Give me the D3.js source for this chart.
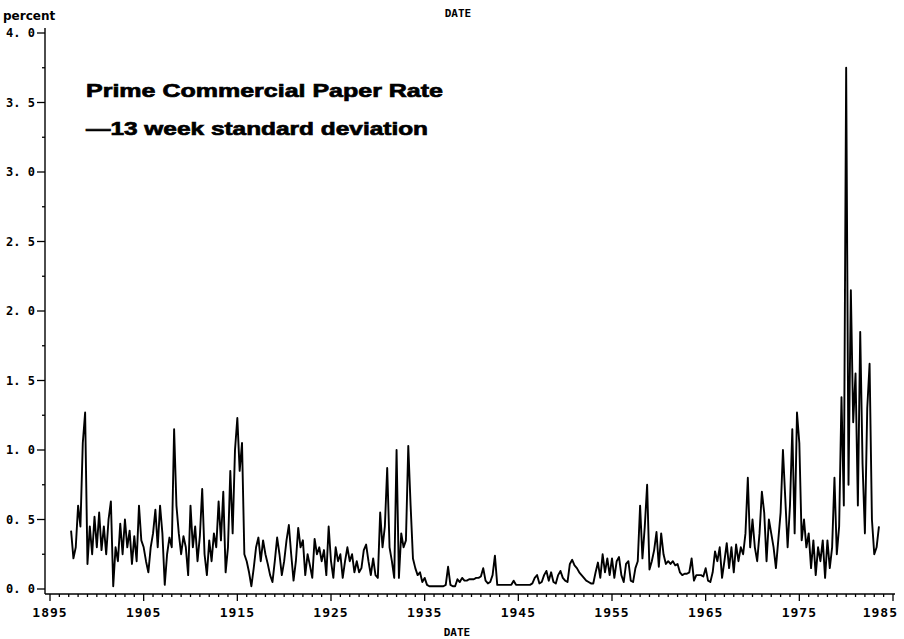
<!DOCTYPE html>
<html>
<head>
<meta charset="utf-8">
<script src="https://cdn.jsdelivr.net/npm/d3@7"></script>
<style>
  body { margin: 0; background: #fff; }
  svg { display: block; }
</style>
</head>
<body>
<div id="chart"></div>
<script>
// quarterly readings of the 13 week std. deviation, starting 1897.25
const startYear = 1897.25;
const step = 0.25;

const rate1890s = [0.42, 0.22, 0.30, 0.60, 0.45, 1.05, 1.27, 0.18, 0.45, 0.25, 0.52];
const rate1900s = [0.30, 0.55, 0.28, 0.45, 0.25, 0.50, 0.63, 0.02, 0.30, 0.20,
                   0.47, 0.25, 0.50, 0.30, 0.42, 0.18, 0.38, 0.20, 0.60, 0.35,
                   0.30, 0.20, 0.12, 0.30, 0.40, 0.57, 0.30, 0.60, 0.40, 0.03,
                   0.25, 0.37, 0.30, 1.15, 0.60, 0.40, 0.25, 0.38, 0.30, 0.10];
const rate1910s = [0.60, 0.30, 0.45, 0.20, 0.38, 0.72, 0.25, 0.10, 0.35, 0.20,
                   0.40, 0.30, 0.63, 0.35, 0.70, 0.12, 0.30, 0.85, 0.40, 1.00,
                   1.23, 0.85, 1.05, 0.25, 0.20, 0.12, 0.02, 0.15, 0.30, 0.37,
                   0.20, 0.35, 0.25, 0.18, 0.10, 0.05, 0.20, 0.37, 0.25, 0.10];
const rate1920s = [0.20, 0.35, 0.46, 0.25, 0.06, 0.20, 0.44, 0.30, 0.35, 0.10,
                   0.25, 0.17, 0.08, 0.36, 0.25, 0.30, 0.20, 0.28, 0.10, 0.45,
                   0.20, 0.08, 0.30, 0.20, 0.25, 0.08, 0.20, 0.30, 0.20, 0.25,
                   0.12, 0.20, 0.12, 0.15, 0.28, 0.32, 0.20, 0.10, 0.22, 0.10];
const rate1930s = [0.08, 0.55, 0.30, 0.45, 0.87, 0.30, 0.20, 0.08, 1.00, 0.08,
                   0.40, 0.30, 0.35, 1.03, 0.60, 0.22, 0.15, 0.10, 0.12, 0.05,
                   0.08, 0.03, 0.02, 0.02, 0.02, 0.02, 0.02, 0.02, 0.02, 0.03,
                   0.16, 0.03, 0.02, 0.02, 0.07, 0.05, 0.08, 0.06, 0.06, 0.07];
const rate1940s = [0.07, 0.07, 0.08, 0.08, 0.09, 0.15, 0.06, 0.04, 0.05, 0.10,
                   0.24, 0.03, 0.03, 0.03, 0.03, 0.03, 0.03, 0.03, 0.06, 0.03,
                   0.03, 0.03, 0.03, 0.03, 0.03, 0.03, 0.04, 0.08, 0.10, 0.04,
                   0.05, 0.10, 0.13, 0.06, 0.12, 0.05, 0.04, 0.10, 0.13, 0.08];
const rate1950s = [0.06, 0.05, 0.18, 0.21, 0.17, 0.15, 0.12, 0.10, 0.08, 0.06,
                   0.05, 0.04, 0.04, 0.12, 0.19, 0.08, 0.25, 0.12, 0.22, 0.10,
                   0.22, 0.08, 0.20, 0.23, 0.10, 0.05, 0.18, 0.20, 0.06, 0.05,
                   0.15, 0.20, 0.60, 0.22, 0.45, 0.75, 0.14, 0.20, 0.28, 0.41];
const rate1960s = [0.16, 0.40, 0.25, 0.18, 0.20, 0.18, 0.20, 0.17, 0.18, 0.12,
                   0.10, 0.11, 0.11, 0.12, 0.22, 0.06, 0.10, 0.10, 0.10, 0.09,
                   0.15, 0.06, 0.05, 0.12, 0.27, 0.20, 0.30, 0.08, 0.20, 0.33,
                   0.15, 0.30, 0.12, 0.32, 0.20, 0.30, 0.25, 0.40, 0.80, 0.30];
const rate1970s = [0.50, 0.30, 0.20, 0.40, 0.70, 0.55, 0.20, 0.50, 0.40, 0.30,
                   0.15, 0.35, 0.55, 1.00, 0.65, 0.30, 0.60, 1.15, 0.40, 1.27,
                   1.05, 0.35, 0.50, 0.30, 0.40, 0.15, 0.35, 0.10, 0.30, 0.20,
                   0.35, 0.08, 0.35, 0.15, 0.30, 0.80, 0.25, 0.45, 1.38, 0.60];
const rate1980s = [3.75, 0.75, 2.15, 1.20, 1.55, 0.60, 1.85, 0.90, 0.40, 1.30,
                   1.62, 0.50, 0.25, 0.30, 0.45];

const yTicks = [0, 0.5, 1, 1.5, 2, 2.5, 3, 3.5, 4];
const xTicks = [1895, 1905, 1915, 1925, 1935, 1945, 1955, 1965, 1975, 1985];

const width = 904, height = 639;

const values = [].concat(rate1890s, rate1900s, rate1910s, rate1920s, rate1930s,
                         rate1940s, rate1950s, rate1960s, rate1970s, rate1980s);
const data = values.map((v, i) => ({ year: startYear + i * step, value: v }));

const svg = d3.select("#chart")
  .append("svg")
  .attr("width", width)
  .attr("height", height)
  .attr("viewBox", [0, 0, width, height]);

const x = d3.scaleLinear().domain([1895, 1985]).range([50, 893]);
const y = d3.scaleLinear().domain([0, 4]).range([589, 33]);

const axisFont = "'DejaVu Sans Mono', monospace";

// x axis (sits a little below the zero level)
const xAxisY = 594;
const xAxis = svg.append("g")
  .attr("transform", `translate(0,${xAxisY})`);

xAxis.append("line")
  .attr("x1", 45).attr("x2", 895)
  .attr("stroke", "#000").attr("stroke-width", 1.4);

xAxis.selectAll(".minor")
  .data(d3.range(1895, 1986))
  .join("line")
    .attr("x1", d => x(d)).attr("x2", d => x(d))
    .attr("y1", 0).attr("y2", d => d % 10 === 5 ? 7 : 3)
    .attr("stroke", "#000").attr("stroke-width", 1.3);

xAxis.selectAll(".xlab")
  .data(xTicks)
  .join("text")
    .attr("x", d => d === 1985 ? 898 : x(d))
    .attr("y", 23)
    .attr("text-anchor", d => d === 1985 ? "end" : "middle")
    .attr("font-family", axisFont)
    .attr("font-weight", "bold")
    .attr("font-size", 13)
    .attr("letter-spacing", 1)
    .text(d => d);

// y axis
const yAxis = svg.append("g").attr("transform", "translate(45,0)");

yAxis.append("line")
  .attr("y1", 28).attr("y2", xAxisY)
  .attr("stroke", "#000").attr("stroke-width", 1.4);

yAxis.selectAll(".ytick")
  .data(d3.range(0, 4.01, 0.25))
  .join("line")
    .attr("x1", d => (d * 4) % 2 === 0 ? -8 : -3).attr("x2", 0)
    .attr("y1", d => y(d)).attr("y2", d => y(d))
    .attr("stroke", "#000").attr("stroke-width", 1.3);

yAxis.selectAll(".ylab")
  .data(yTicks)
  .join("text")
    .attr("x", -10)
    .attr("y", d => y(d) + 4)
    .attr("text-anchor", "end")
    .attr("font-family", axisFont)
    .attr("font-weight", "bold")
    .attr("font-size", 12)
    .text(d => d3.format(".1f")(d).replace(".", ". "));

svg.append("text")
  .attr("x", 3).attr("y", 20)
  .attr("font-family", "'DejaVu Sans', sans-serif")
  .attr("font-weight", "bold")
  .attr("font-size", 12)
  .text("percent");

svg.append("text")
  .attr("x", 458).attr("y", 17)
  .attr("text-anchor", "middle")
  .attr("font-family", axisFont)
  .attr("font-weight", "bold")
  .attr("font-size", 11)
  .text("DATE");

svg.append("text")
  .attr("x", 457).attr("y", 636)
  .attr("text-anchor", "middle")
  .attr("font-family", axisFont)
  .attr("font-weight", "bold")
  .attr("font-size", 11)
  .text("DATE");

// title
const title = svg.append("g")
  .attr("font-family", "'Liberation Sans', Arial, sans-serif")
  .attr("font-weight", "bold")
  .attr("font-size", 19)
  .attr("stroke", "#000")
  .attr("stroke-width", 0.7);

title.append("text")
  .attr("x", 86).attr("y", 97)
  .attr("textLength", 357).attr("lengthAdjust", "spacingAndGlyphs")
  .text("Prime Commercial Paper Rate");

title.append("text")
  .attr("x", 86).attr("y", 135)
  .attr("textLength", 342).attr("lengthAdjust", "spacingAndGlyphs")
  .text("\u201413 week standard deviation");

// the series
const line = d3.line()
  .x(d => x(d.year))
  .y(d => y(d.value));

svg.append("path")
  .datum(data)
  .attr("fill", "none")
  .attr("stroke", "#000")
  .attr("stroke-width", 1.9)
  .attr("stroke-linejoin", "round")
  .attr("d", line);
</script>
</body>
</html>
